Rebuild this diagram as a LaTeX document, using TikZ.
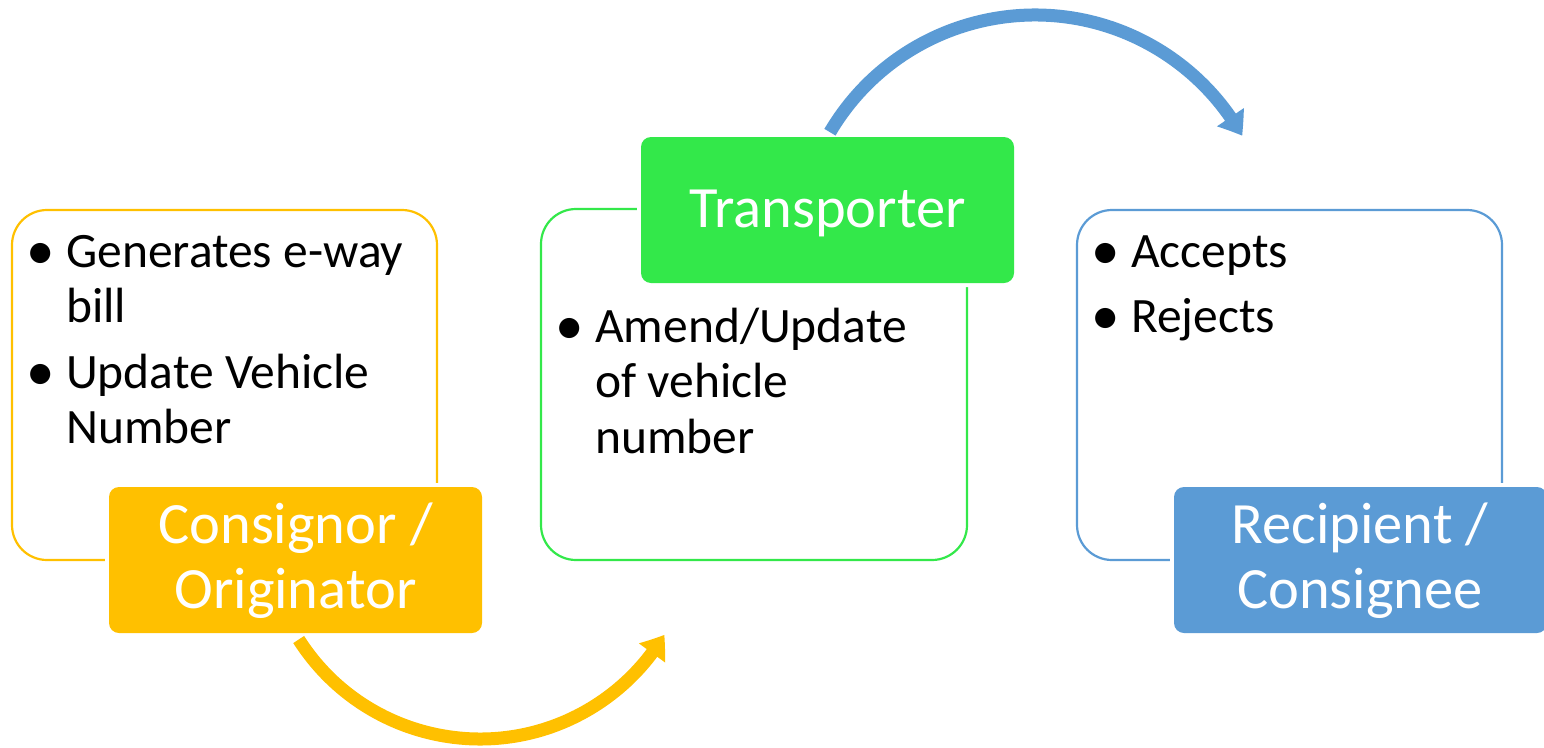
\documentclass[tikz,border=0pt]{standalone}
\usepackage{fontspec}
\setmainfont{Carlito}
\usetikzlibrary{arrows.meta,bending}
\definecolor{cyel}{HTML}{FFC000}
\definecolor{cgrn}{HTML}{33E84A}
\definecolor{cblu}{HTML}{5B9BD5}
\tikzset{
  outbox/.style={draw, line width=2.2pt, rounded corners=35pt, inner sep=0pt},
  lblbox/.style={rounded corners=10pt, inner sep=0pt, preaction={draw=white, line width=8pt}},
  lbltext/.style={text=white, anchor=base, inner sep=0pt, font=\fontsize{58.5}{65}\selectfont},
  itemtext/.style={text=black, anchor=base west, inner sep=0pt, font=\fontsize{49.5}{55}\selectfont},
  bulletmark/.style={text=black, anchor=base, inner sep=0pt, yshift=-2pt, font=\fontsize{57}{60}\selectfont},
  flowarrow/.style={line width=13pt, -{Triangle[width=31pt,length=22pt,bend]}}
}
\begin{document}
\begin{tikzpicture}[x=1pt,y=-1pt]
\useasboundingbox (0,0) rectangle (1544,747);
% outline boxes
\node[outbox, draw=cyel, minimum width=425pt, minimum height=350pt] (B1) at (224.5,385) {};
\node[outbox, draw=cgrn, minimum width=426pt, minimum height=351pt] (B2) at (754,384.5) {};
\node[outbox, draw=cblu, minimum width=425pt, minimum height=350pt] (B3) at (1289.5,385) {};
% label boxes
\node[lblbox, fill=cyel, minimum width=373pt, minimum height=146pt] (L1) at (295.5,560) {};
\node[lblbox, fill=cgrn, minimum width=373pt, minimum height=146pt] (L2) at (827.5,210) {};
\node[lblbox, fill=cblu, minimum width=373pt, minimum height=146pt] (L3) at (1360.5,560) {};
% label texts
\node[lbltext] (L1a) at (295.5,543) {Consignor /};
\node[lbltext] (L1b) at (295.5,608) {Originator};
\node[lbltext] (L2a) at (827.5,227) {Transporter};
\node[lbltext] (L3a) at (1360,543) {Recipient /};
\node[lbltext] (L3b) at (1360,608) {Consignee};
% bullet items, box 1
\node[bulletmark] (b1) at (41,267) {•};
\node[itemtext] (i1a) at (66,267) {Generates e-way};
\node[itemtext] (i1b) at (66,322) {bill};
\node[bulletmark] (b2) at (41,388) {•};
\node[itemtext] (i2a) at (66,388) {Update Vehicle};
\node[itemtext] (i2b) at (66,443) {Number};
% box 2
\node[bulletmark] (b3) at (570,342) {•};
\node[itemtext] (i3a) at (595,342) {Amend/Update};
\node[itemtext] (i3b) at (595,397) {of vehicle};
\node[itemtext] (i3c) at (595,453) {number};
% box 3
\node[bulletmark] (b4) at (1106,267) {•};
\node[itemtext] (i4a) at (1131,267) {Accepts};
\node[bulletmark] (b5) at (1106,332) {•};
\node[itemtext] (i5a) at (1131,332) {Rejects};
% arrows
\coordinate (cy) at (480,524);
\coordinate (cb) at (1035,253);
\draw[flowarrow, cyel] (cy) ++(147.5:215) arc[start angle=147.5, end angle=31, radius=215];
\draw[flowarrow, cblu] (cb) ++(210.5:238) arc[start angle=210.5, end angle=330.5, radius=238];
\end{tikzpicture}
\end{document}
